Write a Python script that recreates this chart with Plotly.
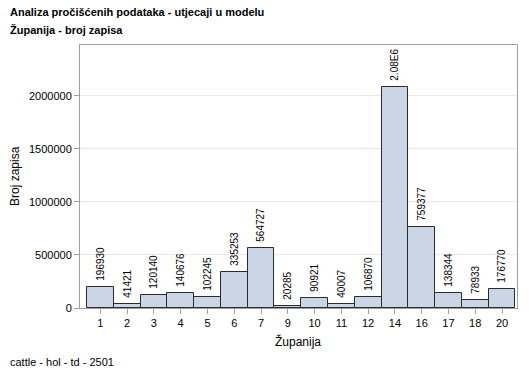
import plotly.graph_objects as go

categories = ["1", "2", "3", "4", "5", "6", "7", "9", "10", "11", "12", "14", "16", "17", "18", "20"]
values = [196930, 41421, 120140, 140676, 102245, 335253, 564727, 20285, 90921, 40007, 106870, 2080000, 759377, 138344, 78933, 176770]
labels = ["196930", "41421", "120140", "140676", "102245", "335253", "564727", "20285", "90921", "40007", "106870", "2.08E6", "759377", "138344", "78933", "176770"]
yticks = [0, 500000, 1000000, 1500000, 2000000]

FONT = "Liberation Sans, Arial, sans-serif"
PW, PH = 437, 263

fig = go.Figure(go.Bar(
    x=categories, y=values, text=["\u00a0" + t for t in labels],
    textposition="outside", textangle=-90, constraintext="none", cliponaxis=False,
    textfont=dict(family=FONT, size=10, color="#000000"),
    marker=dict(color="#CAD5E5", line=dict(color="#2b2b2b", width=1)),
    width=1.0,
))

fig.update_layout(
    width=529, height=378,
    margin=dict(l=80, r=12, t=45, b=70, autoexpand=False),
    paper_bgcolor="white", plot_bgcolor="white",
    showlegend=False, bargap=0,
    font=dict(family=FONT, size=11, color="#000000"),
    xaxis=dict(
        type="category", range=[-0.76, 15.56], automargin=False,
        showline=True, linecolor="#A0A0A0", linewidth=1, mirror=True,
        ticks="outside", ticklen=5, tickcolor="#A0A0A0",
        showgrid=False, tickfont=dict(family=FONT, size=11, color="#000000"),
    ),
    yaxis=dict(
        range=[0, 2480000], tickvals=yticks, ticktext=[str(v) for v in yticks], automargin=False,
        showline=True, linecolor="#A0A0A0", linewidth=1, mirror=True,
        ticks="outside", ticklen=5, tickcolor="#A0A0A0",
        showgrid=True, gridcolor="#E8E8E8", zeroline=False,
        tickfont=dict(family=FONT, size=11, color="#000000"),
    ),
    annotations=[
        dict(text="<b>Analiza pročišćenih podataka - utjecaji u modelu</b>", xref="paper", yref="paper",
             x=-72/PW, y=1 + (45 - 12) / PH, xanchor="left", yanchor="middle", showarrow=False,
             font=dict(family=FONT, size=11, color="#000000")),
        dict(text="<b>Županija - broj zapisa</b>", xref="paper", yref="paper",
             x=-72/PW, y=1 + (45 - 30) / PH, xanchor="left", yanchor="middle", showarrow=False,
             font=dict(family=FONT, size=11, color="#000000")),
        dict(text="cattle - hol - td - 2501", xref="paper", yref="paper",
             x=-72/PW, y=-(362 - 308) / PH, xanchor="left", yanchor="middle", showarrow=False,
             font=dict(family=FONT, size=11, color="#000000")),
        dict(text="Županija", xref="paper", yref="paper",
             x=(298 - 80) / PW, y=-(341 - 308) / PH, xanchor="center", yanchor="middle", showarrow=False,
             font=dict(family=FONT, size=12, color="#000000")),
        dict(text="Broj zapisa", xref="paper", yref="paper", textangle=-90,
             x=-(80 - 15) / PW, y=(308 - 176) / PH, xanchor="center", yanchor="middle", showarrow=False,
             font=dict(family=FONT, size=12, color="#000000")),
    ],
)

fig.write_html("out.html", config={"displayModeBar": False})

with open("out.html", "r", encoding="utf-8") as f:
    html = f.read()
html = html.replace("<head>", "<head><style>html,body{margin:0;padding:0;overflow:hidden;}</style>", 1)
with open("out.html", "w", encoding="utf-8") as f:
    f.write(html)
